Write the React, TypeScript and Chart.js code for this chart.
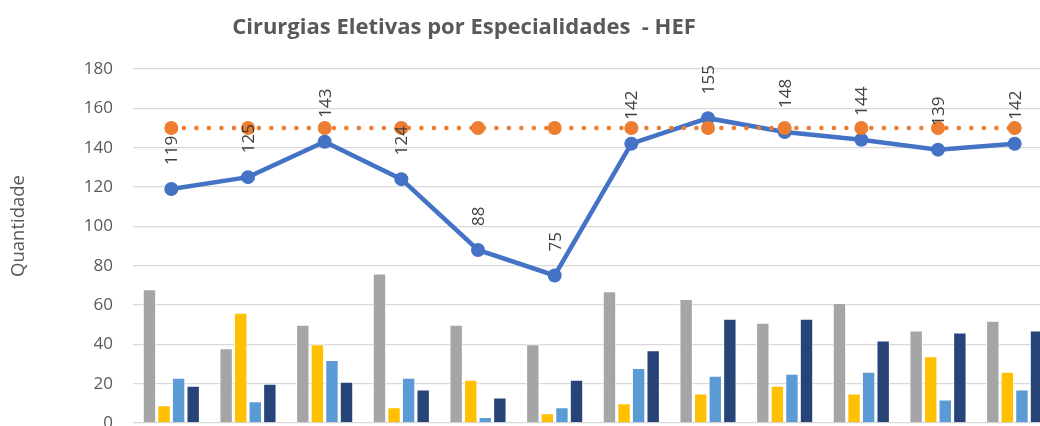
import React, { useEffect, useRef } from "react";
import { Chart, registerables } from "chart.js";

Chart.register(...registerables);

const categories = ["1", "2", "3", "4", "5", "6", "7", "8", "9", "10", "11", "12"];
const serieCinza = [68, 38, 50, 76, 50, 40, 67, 63, 51, 61, 47, 52];
const serieAmarela = [9, 56, 40, 8, 22, 5, 10, 15, 19, 15, 34, 26];
const serieAzulClara = [23, 11, 32, 23, 3, 8, 28, 24, 25, 26, 12, 17];
const serieAzulEscura = [19, 20, 21, 17, 13, 22, 37, 53, 53, 42, 46, 47];
const realizado = [119, 125, 143, 124, 88, 75, 142, 155, 148, 144, 139, 142];
const meta = [150, 150, 150, 150, 150, 150, 150, 150, 150, 150, 150, 150];
const yTicks = { min: 0, max: 180, step: 20 };
const titleText = "Cirurgias Eletivas por Especialidades  - HEF";
const yTitleText = "Quantidade";

const W = 1100;
const H = 470;

const textPlugin = {
  id: "textPlugin",
  afterDatasetsDraw(chart: any) {
    const ctx = chart.ctx;
    const meta0 = chart.getDatasetMeta(4);
    ctx.save();
    ctx.fillStyle = "#404040";
    ctx.font = "17px 'Open Sans'";
    ctx.textAlign = "left";
    ctx.textBaseline = "middle";
    meta0.data.forEach((pt: any, i: number) => {
      ctx.save();
      ctx.translate(pt.x, pt.y - 24);
      ctx.rotate(-Math.PI / 2);
      ctx.fillText(String(realizado[i]), 0, 1);
      ctx.restore();
    });
    ctx.restore();
  },
  afterDraw(chart: any) {
    const ctx = chart.ctx;
    ctx.save();
    ctx.fillStyle = "#595959";
    ctx.font = "bold 22px 'Open Sans'";
    ctx.textAlign = "center";
    ctx.textBaseline = "alphabetic";
    ctx.fillText(titleText, 464, 34);
    ctx.font = "18.5px 'Open Sans'";
    ctx.translate(19, 226);
    ctx.rotate(-Math.PI / 2);
    ctx.textBaseline = "middle";
    ctx.fillText(yTitleText, 0, 0);
    ctx.restore();
  },
};

export default function App() {
  const ref = useRef<HTMLCanvasElement>(null);
  useEffect(() => {
    if (!ref.current) return;
    const barCommon = {
      borderColor: "rgba(255,255,255,0.8)",
      borderWidth: 1,
      categoryPercentage: 0.76,
      barPercentage: 0.92,
      order: 2,
    };
    const chart = new Chart(ref.current, {
      type: "bar",
      data: {
        labels: categories,
        datasets: [
          { ...barCommon, label: "A", data: serieCinza, backgroundColor: "#A5A5A5" },
          { ...barCommon, label: "B", data: serieAmarela, backgroundColor: "#FFC000" },
          { ...barCommon, label: "C", data: serieAzulClara, backgroundColor: "#5B9BD5" },
          { ...barCommon, label: "D", data: serieAzulEscura, backgroundColor: "#264478" },
          {
            type: "line",
            label: "Realizado",
            data: realizado,
            borderColor: "#4472C4",
            backgroundColor: "#4472C4",
            borderWidth: 4.5,
            pointRadius: 7,
            pointBorderWidth: 0,
            pointBackgroundColor: "#4472C4",
            order: 1,
          } as any,
          {
            type: "line",
            label: "Meta",
            data: meta,
            borderColor: "#ED7D31",
            backgroundColor: "#ED7D31",
            borderWidth: 4.5,
            borderDash: [0.1, 12.4],
            borderCapStyle: "round",
            pointRadius: 7,
            pointBorderWidth: 0,
            pointBackgroundColor: "#ED7D31",
            order: 0,
          } as any,
        ],
      },
      options: {
        responsive: false,
        animation: false,
        layout: { padding: { left: 0, top: 69, right: W - 1053, bottom: H - 423 } },
        plugins: {
          legend: { display: false },
          title: { display: false },
          tooltip: { enabled: false },
        },
        scales: {
          x: {
            offset: true,
            ticks: { display: false },
            grid: { display: false },
            border: { display: false },
            afterFit(scale: any) {
              scale.height = 0;
            },
          },
          y: {
            min: yTicks.min,
            max: yTicks.max,
            ticks: {
              stepSize: yTicks.step,
              color: "#595959",
              font: { family: "'Open Sans'", size: 17 },
              padding: 20,
            },
            grid: { color: "#D9D9D9", lineWidth: 1.3, drawTicks: false },
            border: { display: false },
            afterFit(scale: any) {
              scale.width = 133;
            },
          },
        },
      },
      plugins: [textPlugin],
    });
    return () => chart.destroy();
  }, []);
  return (
    <div
      style={{
        position: "fixed",
        left: 0,
        top: 0,
        width: 1040,
        height: 426,
        overflow: "hidden",
        background: "#fff",
      }}
    >
      <canvas ref={ref} width={W} height={H} style={{ width: W, height: H, display: "block" }} />
    </div>
  );
}
